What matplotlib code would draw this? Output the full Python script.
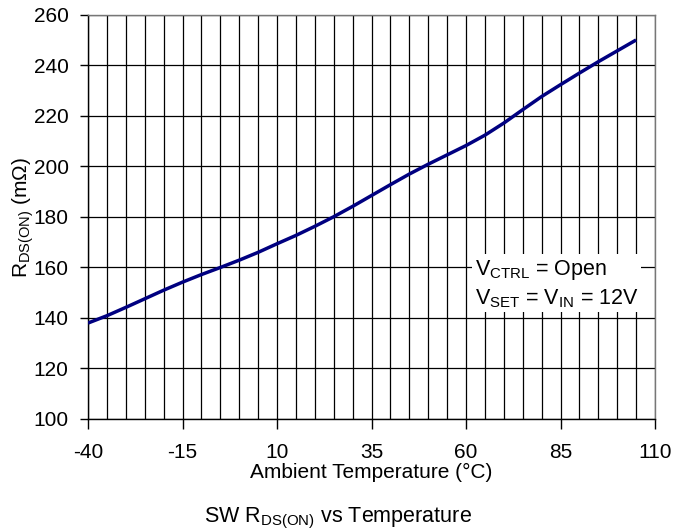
import matplotlib
matplotlib.use("Agg")
import matplotlib.pyplot as plt
import numpy as np

plt.rcParams['font.family'] = ['Liberation Sans', 'DejaVu Sans']
plt.rcParams['mathtext.fontset'] = 'custom'
plt.rcParams['mathtext.rm'] = 'Liberation Sans'
plt.rcParams['mathtext.it'] = 'Liberation Sans'
plt.rcParams['axes.unicode_minus'] = False

temp = [-40, -35, -30, -25, -20, -15, -10, -5, 0, 5, 10, 15, 20, 25, 30, 35, 40,
        45, 50, 55, 60, 65, 70, 75, 80, 85, 90, 95, 100, 105]
rds = [138.0, 140.9, 144.2, 147.6, 151.0, 154.2, 157.2, 160.0, 162.9, 166.0,
       169.4, 172.7, 176.3, 180.1, 184.2, 188.5, 192.8, 197.0, 200.9, 204.6,
       208.3, 212.4, 217.2, 222.5, 227.7, 232.4, 237.0, 241.5, 245.8, 250.1]
xticks = [-40, -15, 10, 35, 60, 85, 110]
yticks = [100, 120, 140, 160, 180, 200, 220, 240, 260]

fig = plt.figure(figsize=(6.75, 5.31), dpi=100)
ax = fig.add_axes([88/675, 1 - 419/531, (655-88)/675, (419-15)/531])

ax.set_xlim(-40, 110)
ax.set_ylim(100, 260)
ax.set_xticks(xticks)
ax.set_yticks(yticks)
ax.set_xticks(np.arange(-40, 111, 5), minor=True)
ax.tick_params(axis='x', which='minor', length=0)
ax.tick_params(axis='both', which='major', direction='out', width=1,
               labelsize=15, color='black')
ax.tick_params(axis='x', which='major', length=7, pad=10.5)
ax.tick_params(axis='y', which='major', length=6, pad=8)
ax.grid(True, which='both', axis='x', color='black', lw=0.9)
ax.grid(True, which='major', axis='y', color='black', lw=0.9)
for s in ax.spines.values():
    s.set_color('black')
    s.set_linewidth(1)
ax.spines['top'].set_color('#777777')
ax.spines['right'].set_color('#777777')

ax.plot(temp, rds, color='#000080', lw=2.5, solid_capstyle='butt', zorder=3)

ax.set_xlabel('Ambient Temperature (°C)', fontsize=15, labelpad=0.5)
ax.set_ylabel(r'R$_{\mathrm{DS(ON)}}$ (m$\Omega$)', fontsize=15, labelpad=-1.5)

ax.text(0.682, 0.335, 'V$_{\\mathrm{CTRL}}$ = Open\nV$_{\\mathrm{SET}}$ = V$_{\\mathrm{IN}}$ = 12V',
        transform=ax.transAxes, fontsize=15.5, ha='left', va='center',
        linespacing=1.3,
        bbox=dict(facecolor='white', edgecolor='none', pad=2), zorder=4)

fig.text(0.5, 0.024, r'SW R$_{\mathrm{DS(ON)}}$ vs Temperature', ha='center', va='center',
         fontsize=15.5)

fig.savefig('out.png', dpi=100)
